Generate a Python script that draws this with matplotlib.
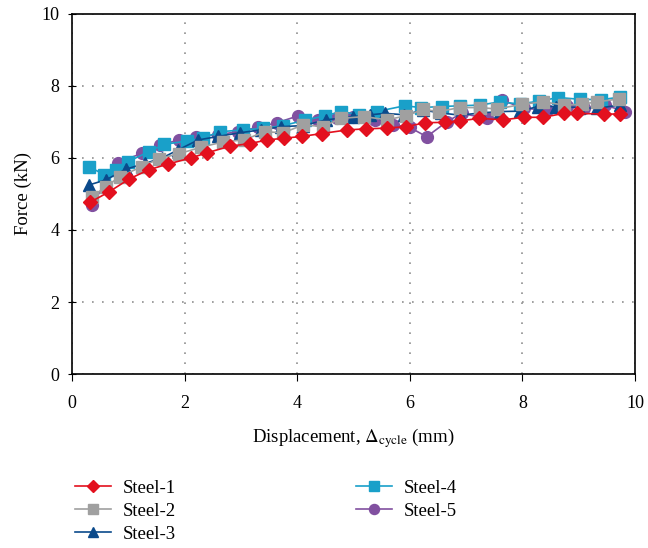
import matplotlib.pyplot as plt

plt.rcParams['font.family'] = ['Liberation Serif', 'DejaVu Serif']
plt.rcParams['mathtext.fontset'] = 'stix'

# Steel-1
x1 = [0.32, 0.65, 1.02, 1.36, 1.70, 2.11, 2.39, 2.81, 3.16, 3.46, 3.77, 4.09, 4.44, 4.89,
      5.23, 5.59, 5.94, 6.27, 6.62, 6.89, 7.23, 7.66, 8.02, 8.37, 8.74, 8.97, 9.44, 9.73]
y1 = [4.77, 5.05, 5.42, 5.67, 5.83, 6.00, 6.14, 6.33, 6.40, 6.50, 6.55, 6.60, 6.68, 6.78,
      6.81, 6.83, 6.87, 6.98, 6.99, 7.03, 7.10, 7.06, 7.13, 7.13, 7.24, 7.24, 7.22, 7.22]
# Steel-2
x2 = [0.35, 0.60, 0.85, 1.24, 1.55, 1.90, 2.30, 2.69, 3.05, 3.43, 3.75, 4.11, 4.46, 4.78,
      5.19, 5.59, 5.93, 6.24, 6.51, 6.89, 7.25, 7.55, 7.99, 8.37, 8.73, 9.05, 9.32, 9.72]
y2 = [4.91, 5.20, 5.48, 5.76, 5.98, 6.12, 6.30, 6.45, 6.50, 6.73, 6.70, 6.92, 6.87, 7.10,
      7.15, 7.06, 7.17, 7.35, 7.29, 7.40, 7.40, 7.36, 7.49, 7.56, 7.47, 7.49, 7.56, 7.64]
# Steel-3
x3 = [0.30, 0.60, 0.96, 1.30, 1.60, 1.88, 2.24, 2.60, 2.98, 3.35, 3.72, 4.10, 4.52, 5.00,
      5.30, 5.56, 5.90, 6.24, 6.55, 6.89, 7.25, 7.60, 7.95, 8.28, 8.60, 9.00, 9.32, 9.73]
y3 = [5.25, 5.39, 5.69, 5.85, 6.00, 6.22, 6.50, 6.60, 6.70, 6.78, 6.87, 6.90, 7.06, 7.15,
      7.20, 7.24, 7.20, 7.33, 7.25, 7.19, 7.25, 7.29, 7.30, 7.43, 7.43, 7.40, 7.38, 7.47]
# Steel-4
x4 = [0.30, 0.57, 0.78, 1.00, 1.37, 1.64, 2.04, 2.32, 2.63, 3.04, 3.40, 3.75, 4.14, 4.49,
      4.78, 5.10, 5.41, 5.91, 6.20, 6.57, 6.90, 7.25, 7.60, 7.95, 8.30, 8.64, 9.02, 9.40, 9.73]
y4 = [5.76, 5.54, 5.67, 5.90, 6.18, 6.38, 6.47, 6.55, 6.73, 6.78, 6.82, 6.90, 7.05, 7.17,
      7.29, 7.20, 7.29, 7.45, 7.40, 7.43, 7.45, 7.47, 7.56, 7.50, 7.58, 7.68, 7.63, 7.62, 7.69]
# Steel-5
x5 = [0.35, 0.82, 1.24, 1.56, 1.90, 2.21, 2.60, 2.95, 3.30, 3.64, 4.02, 4.37, 4.70, 5.00,
      5.38, 5.71, 6.00, 6.30, 6.66, 6.92, 7.37, 7.63, 8.02, 8.43, 8.80, 9.10, 9.47, 9.82]
y5 = [4.69, 5.87, 6.13, 6.36, 6.50, 6.59, 6.65, 6.73, 6.85, 6.98, 7.17, 7.06, 7.10, 7.15,
      7.06, 6.92, 6.85, 6.59, 7.01, 7.24, 7.10, 7.61, 7.38, 7.33, 7.45, 7.40, 7.47, 7.29]

fig = plt.figure(figsize=(6.48, 5.48), dpi=100)
ax = fig.add_axes([0.111, 0.3175, 0.869, 0.657])

ax.plot(x5, y5, marker='o', ms=8.5, color='#8150A0', lw=1.2, label='Steel-5', zorder=3)
ax.plot(x4, y4, marker='s', ms=8.5, color='#19A0C9', lw=1.2, label='Steel-4', zorder=4)
ax.plot(x3, y3, marker='^', ms=8.5, color='#0B4A8B', lw=1.2, label='Steel-3', zorder=5)
ax.plot(x2, y2, marker='s', ms=8.5, color='#A0A0A0', lw=1.2, label='Steel-2', zorder=6)
ax.plot(x1, y1, marker='D', ms=7.5, color='#E3101E', lw=1.2, label='Steel-1', zorder=7)

ax.set_xlim(0, 10)
ax.set_ylim(0, 10)
ax.set_xticks([0, 2, 4, 6, 8, 10])
ax.set_yticks([0, 2, 4, 6, 8, 10])
ax.grid(True, color='#909090', linestyle=(0, (1, 5)), linewidth=1.2)
ax.tick_params(axis='x', direction='out', length=5, pad=10, labelsize=13)
ax.tick_params(axis='y', direction='inout', length=6, pad=6, labelsize=13)
for s in ax.spines.values():
    s.set_linewidth(1.2)

ax.set_xlabel(r'Displacement, $\Delta_{\mathrm{cycle}}$ (mm)', fontsize=13.5, labelpad=10)
ax.set_ylabel('Force (kN)', fontsize=13.5, labelpad=7)

handles, labels = ax.get_legend_handles_labels()
order = [4, 3, 2, 1, 0]
fig.legend([handles[i] for i in order], [labels[i] for i in order],
           loc='upper left', bbox_to_anchor=(0.09, 0.155), ncol=2, frameon=False,
           fontsize=13.5, handlelength=1.9, handletextpad=0.65, columnspacing=9.6,
           labelspacing=0.3, markerscale=0.85)

fig.savefig('out.png', dpi=100)
